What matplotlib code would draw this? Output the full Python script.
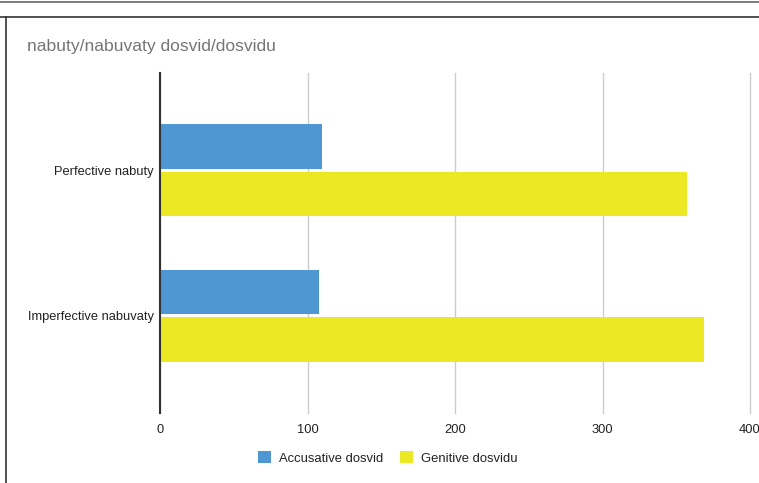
import matplotlib
matplotlib.use("Agg")
import matplotlib.pyplot as plt
from matplotlib.lines import Line2D
import numpy as np

plt.rcParams['font.family'] = ['Liberation Sans', 'DejaVu Sans']

title = "nabuty/nabuvaty dosvid/dosvidu"
categories = ["Perfective nabuty", "Imperfective nabuvaty"]
series_names = ["Accusative dosvid", "Genitive dosvidu"]
accusative = [110, 108]
genitive = [357, 369]
x_ticks = [0, 100, 200, 300, 400]

colors = ["#4f97d3", "#ece824"]

W, H = 759, 483
fig = plt.figure(figsize=(W / 100, H / 100), dpi=100)
fig.patch.set_facecolor("white")

ax = fig.add_axes([160 / W, 70 / H, 590 / W, 340 / H])

y = np.arange(len(categories))
bar_h = 0.306
offset = 0.163
ax.barh(y - offset, accusative, height=bar_h, color=colors[0], zorder=3,
        label=series_names[0])
ax.barh(y + offset, genitive, height=bar_h, color=colors[1], zorder=3,
        label=series_names[1])

ax.set_xlim(0, 400)
ax.set_ylim(len(categories) - 1 + 0.67, -0.67)
ax.set_xticks(x_ticks)
ax.set_xticklabels([str(t) for t in x_ticks], fontsize=9.3, color="#222222")
ax.set_yticks(y)
ax.set_yticklabels(categories, fontsize=9.3, color="#222222")
ax.tick_params(axis="both", length=0)
ax.tick_params(axis="x", pad=8)
ax.tick_params(axis="y", pad=4.5)

ax.grid(axis="x", color="#cccccc", linewidth=1, zorder=0)
for gl in ax.get_xgridlines():
    gl.set_clip_on(False)
for s in ["top", "right", "bottom"]:
    ax.spines[s].set_visible(False)
ax.spines["left"].set_color("#333333")
ax.spines["left"].set_linewidth(1.5)
ax.spines["left"].set_zorder(4)

fig.text(27 / W, 1 - 46 / H, title, fontsize=12.6, color="#757575",
         ha="left", va="center")

leg = fig.legend(loc="center", bbox_to_anchor=(388 / W, 1 - 458 / H),
                 ncol=2, frameon=False, fontsize=9.4, handlelength=1.0,
                 handleheight=1.0, handletextpad=0.6, columnspacing=1.3)
for t in leg.get_texts():
    t.set_color("#222222")

# outer frame lines
fig.add_artist(Line2D([0, 1], [1 - 1.7 / H, 1 - 1.7 / H], color="#666666",
                      linewidth=1.2, transform=fig.transFigure))
fig.add_artist(Line2D([0, 1], [1 - 17.3 / H, 1 - 17.3 / H], color="#333333",
                      linewidth=1.2, transform=fig.transFigure))
fig.add_artist(Line2D([6.3 / W, 6.3 / W], [0, 1 - 17.3 / H], color="#333333",
                      linewidth=1.2, transform=fig.transFigure))

fig.savefig("out.png", dpi=100, facecolor="white")
